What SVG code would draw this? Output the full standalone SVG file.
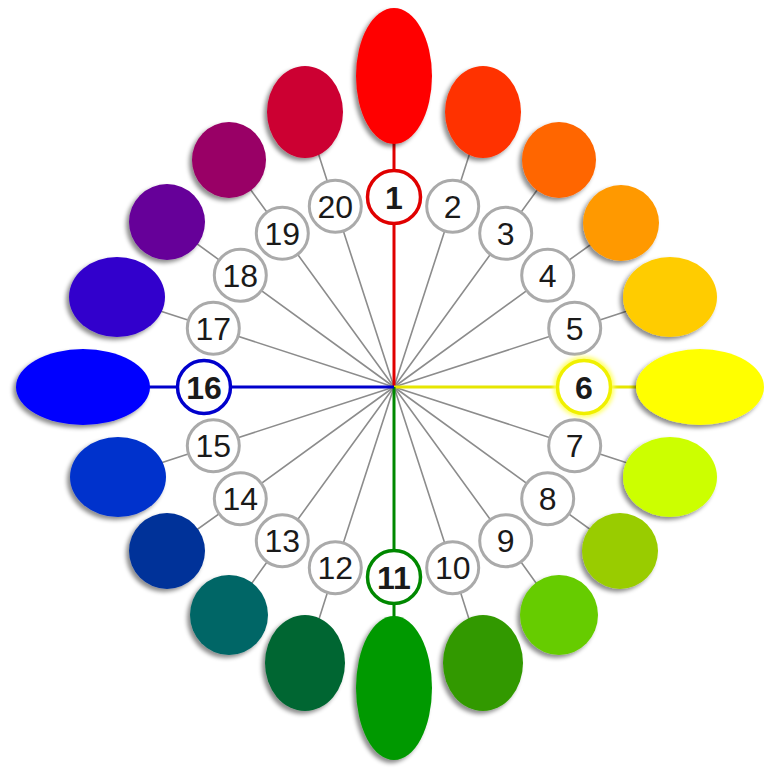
<svg xmlns="http://www.w3.org/2000/svg" width="764" height="769" viewBox="0 0 764 769">
<defs>
<filter id="sh" x="-30%" y="-30%" width="160%" height="160%">
<feDropShadow dx="-3" dy="3" stdDeviation="2.2" flood-color="#000" flood-opacity="0.45"/>
</filter>
<filter id="glow" x="-50%" y="-50%" width="200%" height="200%">
<feGaussianBlur stdDeviation="2"/>
</filter>
<style>
.c{fill:#fff;stroke:#aaaaaa;stroke-width:3}
.t{font-family:"Liberation Sans",Arial,sans-serif;font-size:32px;fill:#1a1a1a;text-anchor:middle}
.b{font-weight:bold}
.g{stroke:#8c8c8c;stroke-width:1.6;fill:none}
.e{filter:url(#sh)}
</style>
</defs>
<rect width="764" height="769" fill="#fff"/>
<g id="connectors">
<path class="g" d="M394 387L452.7 206.3L483 112"/>
<path class="g" d="M394 387L505.7 233.3L559 160"/>
<path class="g" d="M394 387L547.7 275.3L621 223"/>
<path class="g" d="M394 387L574.7 328.3L670 297"/>
<path class="g" d="M394 387L574.7 445.7L670 477"/>
<path class="g" d="M394 387L547.7 498.7L620 551"/>
<path class="g" d="M394 387L505.7 540.7L559 615"/>
<path class="g" d="M394 387L452.7 567.7L483 663"/>
<path class="g" d="M394 387L335.3 567.7L305 663"/>
<path class="g" d="M394 387L282.3 540.7L229 615"/>
<path class="g" d="M394 387L240.3 498.7L167 551"/>
<path class="g" d="M394 387L213.3 445.7L118 477"/>
<path class="g" d="M394 387L213.3 328.3L117 297"/>
<path class="g" d="M394 387L240.3 275.3L167 222"/>
<path class="g" d="M394 387L282.3 233.3L229 160"/>
<path class="g" d="M394 387L335.3 206.3L305 112"/>
<line x1="394" y1="387" x2="394" y2="140" stroke="#e00000" stroke-width="3"/>
<line x1="394" y1="387" x2="640" y2="387" stroke="#e6e600" stroke-width="3"/>
<line x1="394" y1="387" x2="394" y2="620" stroke="#008800" stroke-width="3"/>
<line x1="394" y1="387" x2="146" y2="387" stroke="#0000cc" stroke-width="3"/>
</g>
<g id="n1"><ellipse class="e" cx="394" cy="76" rx="38" ry="68" fill="#ff0000"/><circle cx="394" cy="197" r="26.5" fill="#fff" stroke="#e00000" stroke-width="3.5"/><text class="t b" x="394" y="208.5">1</text></g>
<g id="n2"><ellipse class="e" cx="483" cy="112" rx="38" ry="46" fill="#ff3300"/><circle class="c" cx="452.7" cy="206.3" r="26"/><text class="t" x="452.7" y="217.8">2</text></g>
<g id="n3"><ellipse class="e" cx="559" cy="160" rx="37" ry="38" fill="#ff6600"/><circle class="c" cx="505.7" cy="233.3" r="26"/><text class="t" x="505.7" y="244.8">3</text></g>
<g id="n4"><ellipse class="e" cx="621" cy="223" rx="38" ry="38" fill="#ff9900"/><circle class="c" cx="547.7" cy="275.3" r="26"/><text class="t" x="547.7" y="286.8">4</text></g>
<g id="n5"><ellipse class="e" cx="670" cy="297" rx="47" ry="40" fill="#ffcc00"/><circle class="c" cx="574.7" cy="328.3" r="26"/><text class="t" x="574.7" y="339.8">5</text></g>
<g id="n6"><ellipse class="e" cx="700" cy="387" rx="64" ry="38" fill="#ffff00"/><circle cx="584" cy="387" r="27.5" fill="none" stroke="#ffff66" stroke-width="6" filter="url(#glow)"/><circle cx="584" cy="387" r="26.5" fill="#fff" stroke="#f0f000" stroke-width="3.5"/><text class="t b" x="584" y="398.5">6</text></g>
<g id="n7"><ellipse class="e" cx="670" cy="477" rx="47" ry="40" fill="#ccff00"/><circle class="c" cx="574.7" cy="445.7" r="26"/><text class="t" x="574.7" y="457.2">7</text></g>
<g id="n8"><ellipse class="e" cx="620" cy="551" rx="38" ry="38" fill="#99cc00"/><circle class="c" cx="547.7" cy="498.7" r="26"/><text class="t" x="547.7" y="510.2">8</text></g>
<g id="n9"><ellipse class="e" cx="559" cy="615" rx="39" ry="40" fill="#66cc00"/><circle class="c" cx="505.7" cy="540.7" r="26"/><text class="t" x="505.7" y="552.2">9</text></g>
<g id="n10"><ellipse class="e" cx="483" cy="663" rx="40" ry="48" fill="#339900"/><circle class="c" cx="452.7" cy="567.7" r="26"/><text class="t" x="452.7" y="579.2">10</text></g>
<g id="n11"><ellipse class="e" cx="394" cy="688" rx="38" ry="72" fill="#009900"/><circle cx="394" cy="577" r="26.5" fill="#fff" stroke="#008800" stroke-width="3.5"/><text class="t b" x="394" y="588.5">11</text></g>
<g id="n12"><ellipse class="e" cx="305" cy="663" rx="40" ry="48" fill="#006633"/><circle class="c" cx="335.3" cy="567.7" r="26"/><text class="t" x="335.3" y="579.2">12</text></g>
<g id="n13"><ellipse class="e" cx="229" cy="615" rx="39" ry="40" fill="#006666"/><circle class="c" cx="282.3" cy="540.7" r="26"/><text class="t" x="282.3" y="552.2">13</text></g>
<g id="n14"><ellipse class="e" cx="167" cy="551" rx="38" ry="38" fill="#003399"/><circle class="c" cx="240.3" cy="498.7" r="26"/><text class="t" x="240.3" y="510.2">14</text></g>
<g id="n15"><ellipse class="e" cx="118" cy="477" rx="48" ry="40" fill="#0033cc"/><circle class="c" cx="213.3" cy="445.7" r="26"/><text class="t" x="213.3" y="457.2">15</text></g>
<g id="n16"><ellipse class="e" cx="83" cy="387" rx="67" ry="38" fill="#0000ff"/><circle cx="204" cy="387" r="26.5" fill="#fff" stroke="#0000cc" stroke-width="3.5"/><text class="t b" x="204" y="398.5">16</text></g>
<g id="n17"><ellipse class="e" cx="117" cy="297" rx="48" ry="40" fill="#3300cc"/><circle class="c" cx="213.3" cy="328.3" r="26"/><text class="t" x="213.3" y="339.8">17</text></g>
<g id="n18"><ellipse class="e" cx="167" cy="222" rx="38" ry="38" fill="#660099"/><circle class="c" cx="240.3" cy="275.3" r="26"/><text class="t" x="240.3" y="286.8">18</text></g>
<g id="n19"><ellipse class="e" cx="229" cy="160" rx="37" ry="38" fill="#990066"/><circle class="c" cx="282.3" cy="233.3" r="26"/><text class="t" x="282.3" y="244.8">19</text></g>
<g id="n20"><ellipse class="e" cx="305" cy="112" rx="38" ry="46" fill="#cc0033"/><circle class="c" cx="335.3" cy="206.3" r="26"/><text class="t" x="335.3" y="217.8">20</text></g>
</svg>
